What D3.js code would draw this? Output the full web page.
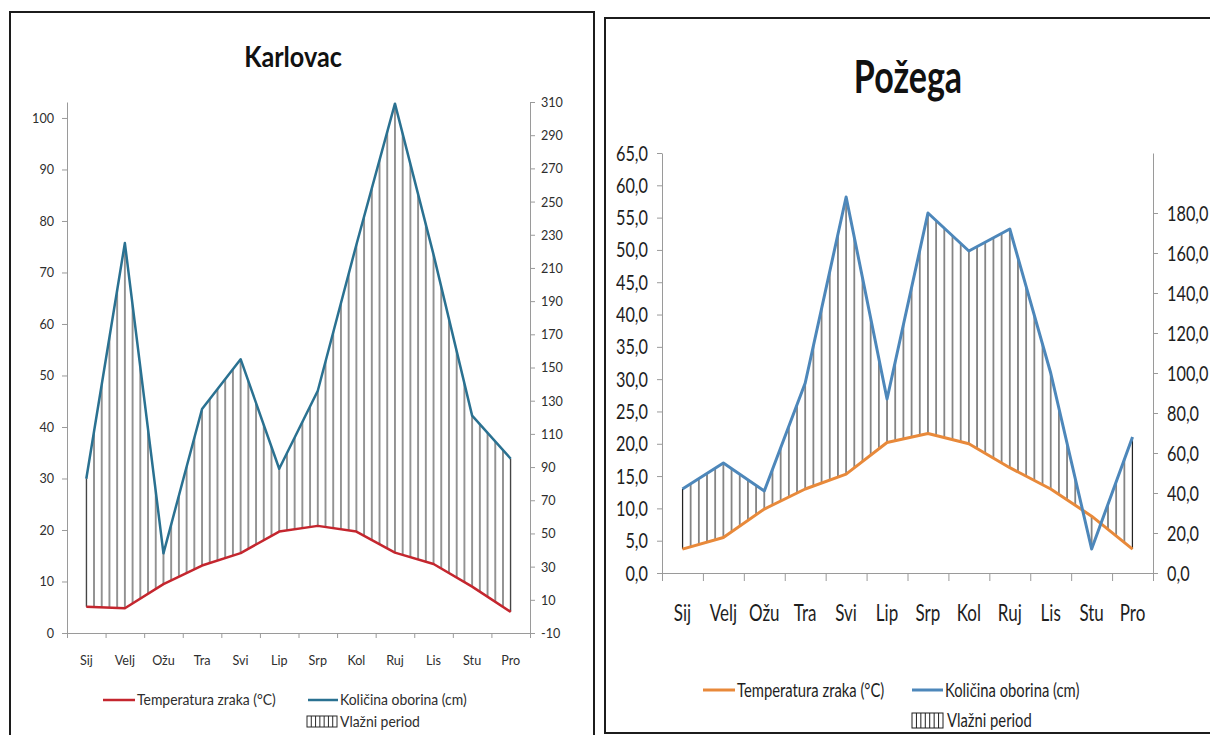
<!DOCTYPE html>
<html lang="hr">
<head>
<meta charset="UTF-8">
<title>Klimadijagrami – Karlovac i Požega</title>
<style>
  body { margin: 0; background: #fff; }
  svg { display: block; }
</style>
</head>
<body>
<svg id="chart" width="1210" height="735"></svg>
<script src="https://d3js.org/d3.v7.min.js"></script>
<script>
const months = ["Sij", "Velj", "Ožu", "Tra", "Svi", "Lip", "Srp", "Kol", "Ruj", "Lis", "Stu", "Pro"];
const legendLabels = ["Temperatura zraka (°C)", "Količina oborina (cm)", "Vlažni period"];

// Karlovac
const karlovacTemp = [5.1, 4.8, 9.5, 13.1, 15.5, 19.7, 20.8, 19.7, 15.6, 13.4, 9.0, 4.1];
const karlovacRain = [83, 225, 38, 125, 155, 89, 136, 224, 309, 218, 121, 95];
const karlovacTempTicks = d3.range(0, 101, 10);
const karlovacRainTicks = d3.range(-10, 311, 20);

// Požega
const pozegaTemp = [3.7, 5.5, 9.9, 13.0, 15.3, 20.2, 21.6, 20.0, 16.3, 13.0, 8.8, 3.7];
const pozegaRain = [42, 55, 41, 95, 188, 87, 180, 161, 172, 100, 12, 68];
const pozegaTempTicks = d3.range(0, 66, 5);
const pozegaRainTicks = d3.range(0, 181, 20);

const hrFormat = d3.formatLocale({decimal: ",", thousands: ".", grouping: [3], currency: ["", ""], minus: "-"});
const plain = hrFormat.format("d");
const oneDec = hrFormat.format(".1f");

const svg = d3.select("#chart");
const defs = svg.append("defs");

function drawPanel(c) {
  const g = svg.append("g").attr("font-family", c.font);

  const x = d3.scaleBand().domain(months).range([c.left, c.right]);
  const xEdge = d3.scaleLinear().domain([0, months.length]).range([c.left, c.right]);
  const yT = d3.scaleLinear().domain(c.tempDomain).range([c.bottom, c.top]);
  const yR = d3.scaleLinear().domain(c.rainDomain).range([c.bottom, c.top]);
  const cx = m => x(m) + x.bandwidth() / 2;

  // frame
  g.append("rect")
    .attr("x", c.frame[0]).attr("y", c.frame[1])
    .attr("width", c.frame[2]).attr("height", c.frame[3])
    .attr("fill", "none").attr("stroke", "#1c1c1c").attr("stroke-width", 2);

  g.append("text")
    .attr("x", c.titleX).attr("y", c.titleY)
    .attr("text-anchor", "middle")
    .attr("font-size", c.titleSize).attr("font-weight", "bold")
    .attr("fill", "#111")
    .text(c.title);

  // hatch pattern (vlažni period)
  const w = x.bandwidth() / 5;
  const pat = defs.append("pattern")
    .attr("id", c.id + "-hatch")
    .attr("patternUnits", "userSpaceOnUse")
    .attr("x", cx(months[0])).attr("y", 0)
    .attr("width", w).attr("height", 10);
  pat.append("line").attr("x1", 0).attr("x2", 0).attr("y1", 0).attr("y2", 10)
    .attr("stroke", c.hatchColor).attr("stroke-width", 1);
  pat.append("line").attr("x1", w).attr("x2", w).attr("y1", 0).attr("y2", 10)
    .attr("stroke", c.hatchColor).attr("stroke-width", 1);

  const rows = months.map((m, i) => ({m, t: c.temp[i], r: c.rain[i]}));

  g.append("path")
    .datum(rows)
    .attr("fill", `url(#${c.id}-hatch)`)
    .attr("d", d3.area().x(d => cx(d.m)).y0(d => yT(d.t)).y1(d => yR(d.r)));

  g.selectAll(".edge")
    .data([rows[0], rows[rows.length - 1]])
    .join("line")
    .attr("x1", d => cx(d.m)).attr("x2", d => cx(d.m))
    .attr("y1", d => yT(d.t)).attr("y2", d => yR(d.r))
    .attr("stroke", c.hatchColor).attr("stroke-width", 1);

  // axes
  const styleAxis = a => {
    a.attr("font-family", c.font).attr("font-size", c.tickSize).attr("color", c.axisColor);
    a.selectAll("text").attr("fill", c.textColor);
  };

  g.append("g")
    .attr("transform", `translate(${c.left},0)`)
    .call(d3.axisLeft(yT).tickValues(c.tempTicks).tickFormat(c.leftFmt)
      .tickSize(5).tickSizeOuter(0).tickPadding(c.leftPad))
    .call(styleAxis);

  g.append("g")
    .attr("transform", `translate(${c.right},0)`)
    .call(d3.axisRight(yR).tickValues(c.rainTicks).tickFormat(c.rightFmt)
      .tickSize(5).tickSizeOuter(0).tickPadding(c.rightPad))
    .call(styleAxis);

  g.append("g")
    .attr("transform", `translate(0,${c.bottom})`)
    .call(d3.axisBottom(xEdge).tickValues(d3.range(months.length + 1)).tickFormat("")
      .tickSize(c.xTick).tickSizeOuter(0))
    .call(styleAxis);

  g.selectAll(".mlabel")
    .data(months)
    .join("text")
    .attr("x", d => cx(d)).attr("y", c.xLabelY)
    .attr("text-anchor", "middle")
    .attr("font-size", c.xLabelSize)
    .attr("fill", c.textColor)
    .text(d => d);

  // lines
  g.append("path")
    .datum(rows)
    .attr("fill", "none").attr("stroke", c.tempColor).attr("stroke-width", c.lineWidth)
    .attr("stroke-linejoin", "round")
    .attr("d", d3.line().x(d => cx(d.m)).y(d => yT(d.t)));

  g.append("path")
    .datum(rows)
    .attr("fill", "none").attr("stroke", c.rainColor).attr("stroke-width", c.lineWidth)
    .attr("stroke-linejoin", "round")
    .attr("d", d3.line().x(d => cx(d.m)).y(d => yR(d.r)));

  // legend
  const L = c.legend;
  const lg = g.append("g").attr("font-size", L.size).attr("fill", c.textColor);

  lg.append("line").attr("x1", L.tempLine[0]).attr("x2", L.tempLine[1])
    .attr("y1", L.y1).attr("y2", L.y1)
    .attr("stroke", c.tempColor).attr("stroke-width", c.lineWidth);
  lg.append("text").attr("x", L.tempText).attr("y", L.y1).attr("dy", "0.35em")
    .text(legendLabels[0]);

  lg.append("line").attr("x1", L.rainLine[0]).attr("x2", L.rainLine[1])
    .attr("y1", L.y1).attr("y2", L.y1)
    .attr("stroke", c.rainColor).attr("stroke-width", c.lineWidth);
  lg.append("text").attr("x", L.rainText).attr("y", L.y1).attr("dy", "0.35em")
    .text(legendLabels[1]);

  const bx = L.box;
  lg.append("rect").attr("x", bx[0]).attr("y", bx[1]).attr("width", bx[2]).attr("height", bx[3])
    .attr("fill", "#fff").attr("stroke", c.hatchColor).attr("stroke-width", 1);
  lg.selectAll(".bl")
    .data(d3.range(1, 7))
    .join("line")
    .attr("x1", k => bx[0] + k * bx[2] / 7).attr("x2", k => bx[0] + k * bx[2] / 7)
    .attr("y1", bx[1]).attr("y2", bx[1] + bx[3])
    .attr("stroke", c.hatchColor).attr("stroke-width", 1);
  lg.append("text").attr("x", L.boxText).attr("y", bx[1] + bx[3] / 2).attr("dy", "0.35em")
    .text(legendLabels[2]);

  // Calibri-like narrow text: squeeze every label horizontally about its own x
  if (c.squeeze !== 1) {
    g.selectAll("text").each(function () {
      const t = d3.select(this);
      const x0 = +t.attr("x") || 0;
      t.attr("x", x0 / c.squeeze).attr("transform", `scale(${c.squeeze},1)`);
    });
  }
}

drawPanel({
  id: "karlovac",
  title: "Karlovac",
  font: "Lato, 'Open Sans', sans-serif",
  squeeze: 0.9,
  frame: [10, 12, 584, 730],
  titleX: 293, titleY: 67, titleSize: 28,
  left: 67, right: 530, top: 102, bottom: 633,
  tempDomain: [0, 103.1], rainDomain: [-10, 310],
  tempTicks: karlovacTempTicks, rainTicks: karlovacRainTicks,
  leftFmt: plain, rightFmt: plain,
  leftPad: 8, rightPad: 6, xTick: 5,
  tickSize: 14, xLabelY: 665, xLabelSize: 14,
  axisColor: "#9a9a9a", textColor: "#2e2e2e", hatchColor: "#2a2a2a",
  tempColor: "#c4262e", rainColor: "#2a7191", lineWidth: 2.5,
  temp: karlovacTemp, rain: karlovacRain,
  legend: {size: 15.5, y1: 700, tempLine: [103, 135], tempText: 137,
           rainLine: [308, 338], rainText: 340, box: [307, 716, 30, 11], boxText: 340}
});

drawPanel({
  id: "pozega",
  title: "Požega",
  font: "Lato, 'Open Sans', sans-serif",
  squeeze: 0.74,
  frame: [605, 18, 620, 715],
  titleX: 908, titleY: 93, titleSize: 46,
  left: 662, right: 1153, top: 153, bottom: 573,
  tempDomain: [0, 65], rainDomain: [0, 210],
  tempTicks: pozegaTempTicks, rainTicks: pozegaRainTicks,
  leftFmt: oneDec, rightFmt: oneDec,
  leftPad: 9, rightPad: 9, xTick: 8,
  tickSize: 22, xLabelY: 621, xLabelSize: 23,
  axisColor: "#9a9a9a", textColor: "#1e1e1e", hatchColor: "#1e1e1e",
  tempColor: "#e8893a", rainColor: "#4d87ba", lineWidth: 3,
  temp: pozegaTemp, rain: pozegaRain,
  legend: {size: 20, y1: 690, tempLine: [703, 735], tempText: 737,
           rainLine: [912, 943], rainText: 945, box: [912, 713, 31, 15], boxText: 947}
});
</script>
</body>
</html>
